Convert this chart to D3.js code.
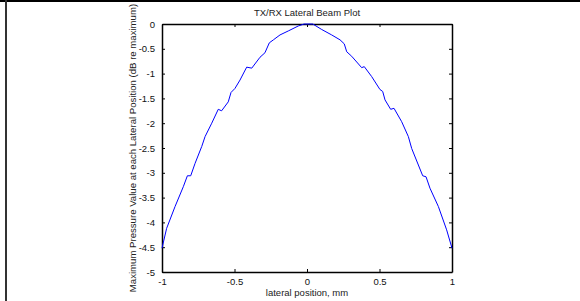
<html>
<head>
<script src="https://cdn.jsdelivr.net/npm/d3@7"></script>
<style>
  body { margin:0; background:#fff; }
  text { font-family: "Liberation Sans", Arial, sans-serif; }
</style>
</head>
<body>
<svg id="viz" width="580" height="301"></svg>
<script>
  // lateral position (mm) and beam level (dB re maximum)
  var posMm = [-1.00,-0.968,-0.91,-0.853,-0.825,-0.802,-0.772,-0.726,-0.703,-0.657,
               -0.612,-0.589,-0.543,-0.524,-0.497,-0.462,-0.416,-0.381,-0.324,-0.29,
               -0.26,-0.232,-0.186,-0.129,-0.06,-0.02,0.04,0.101,0.17,0.228,
               0.257,0.274,0.308,0.377,0.395,0.446,0.503,0.522,0.538,0.577,
               0.60,0.653,0.699,0.722,0.798,0.821,0.848,0.906,0.963,1.00];
  var levelDb = [-4.52,-4.12,-3.68,-3.28,-3.06,-3.06,-2.81,-2.47,-2.27,-2.00,
                 -1.72,-1.75,-1.57,-1.38,-1.30,-1.13,-0.87,-0.89,-0.67,-0.58,
                 -0.38,-0.32,-0.22,-0.14,-0.04,0,0,-0.11,-0.22,-0.32,
                 -0.40,-0.56,-0.65,-0.88,-0.86,-1.06,-1.32,-1.36,-1.53,-1.72,
                 -1.70,-1.97,-2.27,-2.51,-3.06,-3.08,-3.31,-3.68,-4.15,-4.52];
  var xTicks = [-1,-0.5,0,0.5,1];
  var yTicks = [0,-0.5,-1,-1.5,-2,-2.5,-3,-3.5,-4,-4.5,-5];

  var svg = d3.select("#viz");
  var pLeft = 162, pRight = 452, pTop = 24, pBottom = 272;

  // page frame bits
  svg.append("rect").attr("x",0).attr("y",0).attr("width",580).attr("height",2).attr("fill","#000");
  svg.append("rect").attr("x",5).attr("y",0).attr("width",2).attr("height",301).attr("fill","#333");

  var x = d3.scaleLinear().domain([-1,1]).range([pLeft,pRight]);
  var y = d3.scaleLinear().domain([-5,0]).range([pBottom,pTop]);

  var fmt = function(d){ return String(d); };

  svg.append("g")
    .attr("transform","translate(0,"+pBottom+")")
    .call(d3.axisBottom(x).tickValues(xTicks).tickFormat(fmt).tickSizeInner(-3).tickSizeOuter(0).tickPadding(6))
  svg.append("g")
    .attr("transform","translate(0,"+pTop+")")
    .call(d3.axisTop(x).tickValues(xTicks).tickFormat("").tickSizeInner(-3).tickSizeOuter(0))
  svg.append("g")
    .attr("transform","translate("+pLeft+",0)")
    .call(d3.axisLeft(y).tickValues(yTicks).tickFormat(fmt).tickSizeInner(-3).tickSizeOuter(0).tickPadding(7))
  svg.append("g")
    .attr("transform","translate("+pRight+",0)")
    .call(d3.axisRight(y).tickValues(yTicks).tickFormat("").tickSizeInner(-3).tickSizeOuter(0))

  svg.selectAll(".domain").attr("stroke","#000").attr("stroke-width",1.5);
  svg.selectAll(".tick line").attr("stroke","#000");
  svg.selectAll(".tick text").attr("font-size",9.5).attr("fill","#111")
     .attr("font-family","Liberation Sans, Arial, sans-serif");

  // curve
  var pts = posMm.map(function(d,i){ return [d, levelDb[i]]; });
  svg.append("path")
    .datum(pts)
    .attr("fill","none")
    .attr("stroke","#0000ff")
    .attr("stroke-width",1)
    .attr("d", d3.line().x(function(d){return x(d[0]);}).y(function(d){return y(d[1]);}));

  svg.append("text")
    .attr("x",(pLeft+pRight)/2).attr("y",16)
    .attr("text-anchor","middle").attr("font-size",9.5).attr("fill","#222")
    .text("TX/RX Lateral Beam Plot");

  svg.append("text")
    .attr("x",(pLeft+pRight)/2).attr("y",296)
    .attr("text-anchor","middle").attr("font-size",9.5).attr("fill","#222")
    .text("lateral position, mm");

  svg.append("text")
    .attr("transform","translate(136,148) rotate(-90)")
    .attr("text-anchor","middle").attr("font-size",9.6).attr("fill","#222")
    .text("Maximum Pressure Value at each Lateral Position (dB re maximum)");
</script>
</body>
</html>
